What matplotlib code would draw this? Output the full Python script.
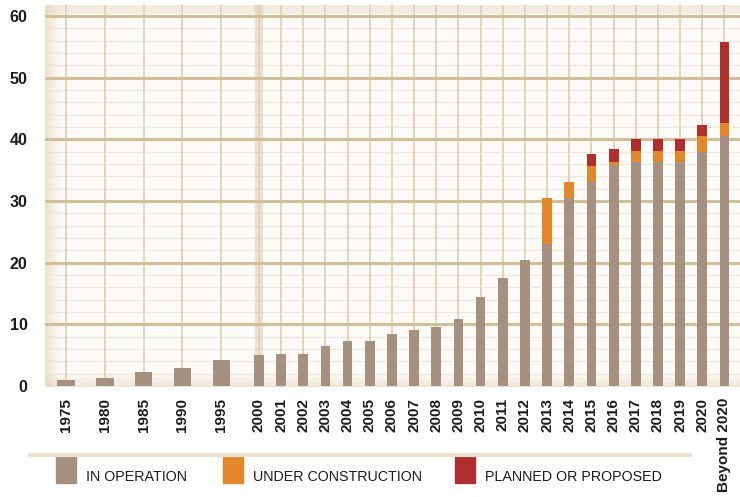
import numpy as np
import matplotlib
matplotlib.use('Agg')
import matplotlib.pyplot as plt
from matplotlib.patches import Rectangle
from matplotlib.lines import Line2D

# data
categories = ['1975', '1980', '1985', '1990', '1995', '2000', '2001', '2002', '2003',
              '2004', '2005', '2006', '2007', '2008', '2009', '2010', '2011', '2012',
              '2013', '2014', '2015', '2016', '2017', '2018', '2019', '2020', 'Beyond 2020']
in_operation = [1.0, 1.3, 2.3, 3.0, 4.3, 5.0, 5.2, 5.2, 6.5, 7.3, 7.3, 8.4, 9.1, 9.5,
                10.8, 14.5, 17.6, 20.4, 23.0, 30.5, 33.1, 35.8, 36.3, 36.3, 36.3, 38.0, 40.6]
under_construction = [0, 0, 0, 0, 0, 0, 0, 0, 0, 0, 0, 0, 0, 0, 0, 0, 0, 0,
                      7.5, 2.6, 2.6, 0.6, 1.8, 1.8, 1.8, 2.6, 2.1]
planned = [0, 0, 0, 0, 0, 0, 0, 0, 0, 0, 0, 0, 0, 0, 0, 0, 0, 0,
           0, 0, 1.9, 2.0, 2.0, 2.0, 2.0, 1.7, 13.1]
yticks = [0, 10, 20, 30, 40, 50, 60]
legend_labels = ['IN OPERATION', 'UNDER CONSTRUCTION', 'PLANNED OR PROPOSED']

c_oper = '#A69181'
c_cons = '#E2872A'
c_plan = '#B02F2E'
txt = '#1c1c1c'

# five-year steps are spaced wider than the yearly ones
n = len(categories)
pos = np.array([i * 1.75 if i < 5 else 8.7 + (i - 5) for i in range(n)])
widths = np.array([0.78 if i < 5 else 0.44 for i in range(n)])

fig = plt.figure(figsize=(7.4, 4.97), dpi=100)
ax = fig.add_axes([45 / 740, 1 - 387 / 497, 1 - 45 / 740, 382 / 497])
ax.set_facecolor('#FDFBF7')
ax.set_xlim(-0.95, 30.4)
ax.set_ylim(-0.15, 61.8)

# background decoration: top band, left and bottom shading
ax.axhspan(60.3, 61.8, color='#F3ECDF', zorder=0, lw=0)
grad = np.zeros((1, 50, 4))
grad[..., :3] = np.array([222, 205, 178]) / 255
grad[0, :, 3] = np.linspace(0.55, 0, 50)
ax.imshow(grad, extent=[-0.95, -0.25, -0.15, 61.8], aspect='auto', zorder=0.5)
vgrad = np.zeros((50, 1, 4))
vgrad[..., :3] = np.array([222, 205, 178]) / 255
vgrad[:, 0, 3] = np.linspace(0, 0.45, 50)
ax.imshow(vgrad, extent=[-0.95, 30.4, -0.15, 2.2], aspect='auto', zorder=0.5)

# grid
for y in np.arange(2, 60, 2):
    if y % 10:
        ax.axhline(y, color='#EFE7D9', lw=0.8, zorder=1)
for p in pos:
    ax.axvline(p, color='#E2D4BB', lw=1.4, zorder=1.2)
ax.axvline(pos[5], color='#D9C9AD', lw=6, alpha=0.5, zorder=1.1)
for y in yticks[1:]:
    ax.axhline(y, color='#D2BE98', lw=2.2, zorder=1.5)

# stacked bars
oper = np.array(in_operation)
cons = np.array(under_construction)
plan = np.array(planned)
ax.bar(pos, oper, width=widths, color=c_oper, zorder=3)
ax.bar(pos, cons, width=widths, bottom=oper, color=c_cons, zorder=3)
ax.bar(pos, plan, width=widths, bottom=oper + cons, color=c_plan, zorder=3)

for s in ax.spines.values():
    s.set_visible(False)
ax.set_yticks(yticks)
ax.set_yticklabels([str(v) for v in yticks], fontsize=11.5, fontweight='bold', color=txt,
                   family='Liberation Sans')
ax.tick_params(axis='y', length=0, pad=12.5)
ax.set_xticks(pos)
ax.set_xticklabels(categories, rotation=90, fontsize=11, fontweight='bold', color=txt,
                   family='Liberation Sans', va='top')
ax.tick_params(axis='x', length=0, pad=8)

# legend under the chart
fig.add_artist(Line2D([30 / 740, 690 / 740], [1 - 455 / 497] * 2, color='#ECE2D0', lw=3))
leg_x = [56, 223, 455]
leg_colors = [c_oper, c_cons, c_plan]
for x0, col, lab in zip(leg_x, leg_colors, legend_labels):
    fig.add_artist(Rectangle((x0 / 740, 1 - 483 / 497), 20 / 740, 28 / 497,
                             transform=fig.transFigure, color=col))
    fig.text((x0 + 30) / 740, 1 - 477 / 497, lab, fontsize=10.3, color=txt,
             family='Liberation Sans', va='center', ha='left')

fig.savefig('out.png', dpi=100, facecolor='white')
